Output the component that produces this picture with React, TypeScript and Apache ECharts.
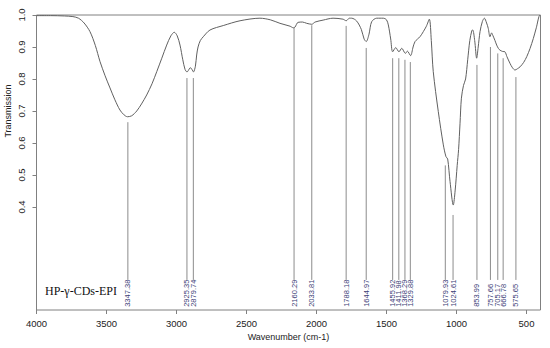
import React, { useEffect, useRef } from "react";
import * as echarts from "echarts";

// Spectrum: wavenumber (cm-1) and transmission
const WAVENUMBER = [
  4000, 3900, 3800, 3740, 3700, 3660, 3618, 3580, 3546, 3510, 3475, 3440, 3404, 3375, 3350, 3320,
  3284, 3250, 3213, 3175, 3141, 3105, 3070, 3040, 3016, 2995, 2975, 2955, 2939, 2925, 2905, 2899,
  2890, 2879, 2865, 2856, 2846, 2830, 2809, 2761, 2666, 2546, 2404, 2330, 2261, 2189, 2165, 2154,
  2132, 2100, 2070, 2034, 2010, 1953, 1882, 1811, 1788, 1765, 1749, 1713, 1680, 1660, 1645, 1625,
  1606, 1570, 1546, 1523, 1500, 1487, 1470, 1456, 1434, 1411, 1391, 1365, 1351, 1328, 1310, 1296,
  1261, 1237, 1215, 1194, 1180, 1166, 1130, 1094, 1075, 1063, 1046, 1023, 1010, 995, 985, 975,
  965, 950, 935, 920, 905, 890, 884, 870, 856, 845, 832, 815, 801, 785, 773, 761,
  749, 741, 725, 713, 700, 689, 670, 654, 640, 618, 600, 582, 565, 546, 520, 498,
  475, 451, 430, 404, 400,
];
const TRANSMISSION = [
  0.998, 0.998, 0.997, 0.995, 0.99, 0.975, 0.948, 0.905, 0.854, 0.81, 0.772, 0.735, 0.703, 0.688, 0.682, 0.685,
  0.7, 0.722, 0.75, 0.785, 0.823, 0.865, 0.906, 0.935, 0.946, 0.935, 0.906, 0.86, 0.83, 0.822, 0.834, 0.835,
  0.83, 0.822, 0.84, 0.875, 0.9, 0.92, 0.932, 0.953, 0.967, 0.982, 0.99, 0.985, 0.974, 0.965, 0.96, 0.962,
  0.977, 0.978, 0.974, 0.971, 0.978, 0.984, 0.99, 0.987, 0.982, 0.99, 0.99, 0.981, 0.955, 0.925, 0.917, 0.94,
  0.979, 0.99, 0.99, 0.99, 0.985, 0.969, 0.925, 0.885, 0.898, 0.885, 0.896, 0.88, 0.887, 0.873, 0.9, 0.917,
  0.932, 0.948, 0.965, 0.987, 0.92, 0.823, 0.698, 0.594, 0.557, 0.55, 0.479, 0.406, 0.45, 0.53, 0.58, 0.66,
  0.74, 0.78, 0.8, 0.86, 0.92, 0.952, 0.953, 0.92, 0.865, 0.9, 0.948, 0.98, 0.99, 0.975, 0.958, 0.932,
  0.944, 0.937, 0.92, 0.906, 0.895, 0.89, 0.886, 0.885, 0.87, 0.849, 0.835, 0.828, 0.832, 0.838, 0.852, 0.87,
  0.895, 0.927, 0.96, 1.0, 1.0,
];

// Peak annotations
const PEAK_WN = [
  3347.38, 2925.35, 2879.74, 2160.29, 2033.81, 1788.18, 1644.97, 1455.92, 1411.98, 1368.29,
  1329.88, 1079.93, 1024.61, 853.99, 757.66, 705.17, 666.78, 575.65,
];
const PEAK_LABELS = [
  "3347.38", "2925.35", "2879.74", "2160.29", "2033.81", "1788.18", "1644.97", "1455.92", "1411.98", "1368.29",
  "1329.88", "1079.93", "1024.61", "853.99", "757.66", "705.17", "666.78", "575.65",
];
const PEAK_TOP = [
  0.665, 0.803, 0.803, 0.96, 0.968, 0.966, 0.897, 0.865, 0.865, 0.86,
  0.853, 0.53, 0.375, 0.844, 0.9, 0.88, 0.865, 0.806,
];

const X_TICKS = [500, 1000, 1500, 2000, 2500, 3000, 3500, 4000];
const Y_TICKS = [0.4, 0.5, 0.6, 0.7, 0.8, 0.9, 1.0];

const X_MIN = 400;
const X_MAX = 4000;
const Y_MIN = 0.078;
const Y_MAX = 1.0;
const LINE_END = 0.172;
const LABEL_BASE = 0.088;

export default function App() {
  const ref = useRef<HTMLDivElement>(null);
  useEffect(() => {
    if (!ref.current) return;
    const chart = echarts.init(ref.current, undefined, { renderer: "svg" });
    const spectrum = WAVENUMBER.map((w, i) => [w, TRANSMISSION[i]]);
    const peaks = PEAK_WN.map((w, i) => [w, PEAK_TOP[i]]);
    chart.setOption({
      animation: false,
      backgroundColor: "#ffffff",
      grid: {
        left: 36.5,
        right: 9.5,
        top: 15,
        bottom: 38,
        show: true,
        borderColor: "#808080",
        borderWidth: 1,
        outerBoundsMode: "none",
        containLabel: false,
      },
      title: {
        text: "HP-γ-CDs-EPI",
        left: 45,
        top: 285,
        padding: 0,
        textStyle: {
          fontFamily: "Liberation Serif",
          fontSize: 12,
          fontWeight: "normal",
          color: "#111",
        },
      },
      graphic: [
        {
          type: "text",
          x: 8,
          y: 111,
          rotation: Math.PI / 2,
          style: {
            text: "Transmission",
            fontFamily: "Arial, Liberation Sans",
            fontSize: 9,
            fill: "#222",
            align: "center",
            verticalAlign: "middle",
          },
        },
      ],
      xAxis: {
        type: "value",
        inverse: true,
        min: X_MIN,
        max: X_MAX,
        name: "Wavenumber (cm-1)",
        nameLocation: "middle",
        nameGap: 22,
        nameTextStyle: { fontFamily: "Arial, Liberation Sans", fontSize: 9, color: "#222" },
        axisLine: { show: false },
        splitLine: { show: false },
        axisTick: {
          show: true,
          length: 4,
          customValues: X_TICKS,
          lineStyle: { color: "#808080" },
        },
        axisLabel: {
          customValues: X_TICKS,
          margin: 8,
          fontFamily: "Arial, Liberation Sans",
          fontSize: 9.5,
          color: "#222",
          formatter: (v: number) => String(Math.round(v)),
        },
      },
      yAxis: {
        type: "value",
        min: Y_MIN,
        max: Y_MAX,
        axisLine: { show: false },
        splitLine: { show: false },
        axisTick: {
          show: true,
          length: 4,
          customValues: Y_TICKS,
          lineStyle: { color: "#808080" },
        },
        axisLabel: {
          customValues: Y_TICKS,
          rotate: 90,
          margin: 10,
          fontFamily: "Arial, Liberation Sans",
          fontSize: 9.5,
          color: "#222",
          formatter: (v: number) => v.toFixed(1),
        },
      },
      series: [
        {
          type: "line",
          data: spectrum,
          smooth: 0.3,
          showSymbol: false,
          lineStyle: { color: "#606060", width: 1 },
          z: 3,
        },
        {
          type: "custom",
          data: peaks,
          z: 2,
          renderItem: (params: any, api: any) => {
            const x = api.value(0);
            const top = api.value(1);
            const p1 = api.coord([x, top]);
            const p2 = api.coord([x, LINE_END]);
            const p3 = api.coord([x, LABEL_BASE]);
            return {
              type: "group",
              children: [
                {
                  type: "line",
                  shape: { x1: p1[0], y1: p1[1], x2: p2[0], y2: p2[1] },
                  style: { stroke: "#8c8c8c", lineWidth: 1 },
                },
                {
                  type: "text",
                  x: p3[0],
                  y: p3[1],
                  rotation: Math.PI / 2,
                  style: {
                    text: PEAK_LABELS[params.dataIndex],
                    fontFamily: "Arial, Liberation Sans",
                    fontSize: 7.5,
                    fill: "#3b4076",
                    align: "left",
                    verticalAlign: "middle",
                  },
                },
              ],
            };
          },
        },
      ],
    });
    return () => chart.dispose();
  }, []);
  return (
    <div
      ref={ref}
      style={{ position: "absolute", left: 0, top: 0, width: 550, height: 348 }}
    />
  );
}
